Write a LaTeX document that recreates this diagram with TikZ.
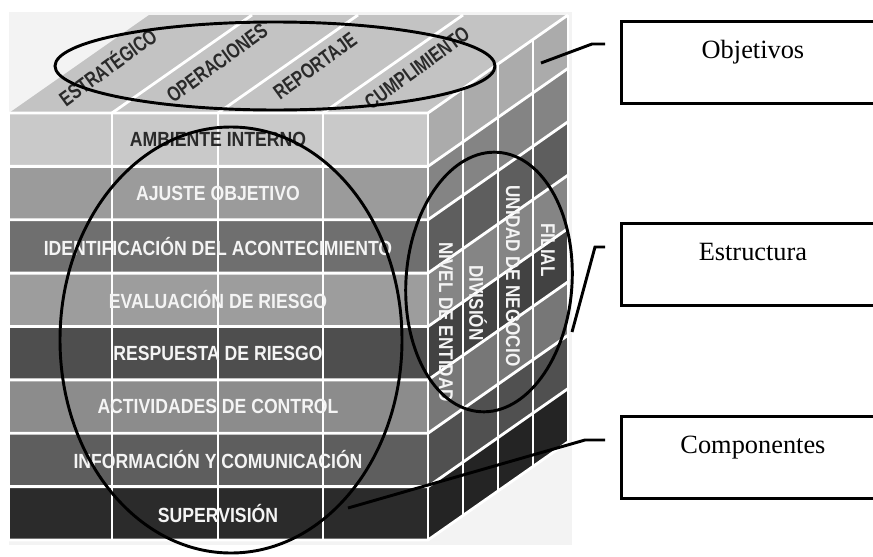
\documentclass[tikz,border=0pt]{standalone}
\usepackage{fontspec}
\setmainfont{Liberation Serif}
\setsansfont{Liberation Sans}
\usepackage{graphicx}
\usetikzlibrary{calc,positioning}

\definecolor{paper}{HTML}{F3F3F3}
\definecolor{lid}{HTML}{C3C3C3}
\definecolor{band1}{HTML}{C9C9C9}
\definecolor{band2}{HTML}{9B9B9B}
\definecolor{band3}{HTML}{6F6F6F}
\definecolor{band4}{HTML}{9D9D9D}
\definecolor{band5}{HTML}{4E4E4E}
\definecolor{band6}{HTML}{8C8C8C}
\definecolor{band7}{HTML}{5E5E5E}
\definecolor{band8}{HTML}{2B2B2B}
\definecolor{ink}{HTML}{2A2A2A}
\definecolor{chalk}{HTML}{F4F4F4}

\newcommand{\narrow}[1]{\scalebox{0.86}[1]{#1}}
\newcommand{\slim}[1]{\scalebox{0.76}[1]{#1}}

\tikzset{
	seam/.style={white, line width=2.4pt},
	ring/.style={black, line width=2.5pt},
	callout/.style={black, line width=2.5pt, shorten >=0.45cm},
	tag/.style={draw, line width=2.2pt, anchor=north west, inner xsep=0pt, inner ysep=0pt, minimum width=7.9cm, text height=1.12cm, text depth=1.34cm, font=\fontsize{22.5}{26}\selectfont},
	rowlabel/.style={text=chalk, font=\fontsize{17.5}{18}\selectfont\sffamily\bfseries},
	toplabel/.style={text=ink, rotate=36, font=\fontsize{18}{19}\selectfont\sffamily\bfseries},
	sidelabel/.style={text=chalk, rotate=-90, font=\fontsize{17}{18}\selectfont\sffamily\bfseries}
}

\begin{document}
\begin{tikzpicture}[x=0.03cm,y=-0.03cm]
	\useasboundingbox (0,0) rectangle (873,556);
	
	%%%cube faces
	\fill[paper] (9,12) rectangle (572,545);
	\fill[lid] (9,113) -- (428,113) -- ++(140,-98) -- (149,15) -- cycle;
	\foreach \i in {1,...,8}
		\fill[band\i] (9,{113+53.375*(\i-1)}) rectangle (428,{113+53.375*\i});
	\foreach \i in {1,...,8}
		\foreach \j in {0,...,3}
			\fill[band\i!85!black] ({428+35*\j},{113-24.5*\j+53.375*(\i-1)}) -- ++(35,-24.5) -- ++(0,53.375) -- ++(-35,24.5) -- cycle;
	
	%%%white seams
	\foreach \i in {0,...,8}
		\draw[seam] (9,{113+53.375*\i}) -- (428,{113+53.375*\i}) -- ++(140,-98);
	\foreach \x in {9,112,218,323,428}
		\draw[seam] (\x,113) -- (\x,540);
	\foreach \x in {112,218,323}
		\draw[seam] (\x,113) -- ++(140,-98);
	\foreach \j in {1,...,4}
		\draw[seam] ({428+35*\j},{113-24.5*\j}) -- ++(0,427);
	
	%%%objetivos (top)
	\node[toplabel] (estr) at (107,66) {\slim{ESTRATÉGICO}};
	\node[toplabel] (oper) at (217,63) {\slim{OPERACIONES}};
	\node[toplabel] (repo) at (315,66) {\slim{REPORTAJE}};
	\node[toplabel] (cump) at (417,68) {\slim{CUMPLIMIENTO}};
	
	%%%componentes (front)
	\node[rowlabel,text=ink] (amb) at (218,139.7) {\narrow{AMBIENTE INTERNO}};
	\node[rowlabel] (aju) at (218,193) {\narrow{AJUSTE OBJETIVO}};
	\node[rowlabel] (ide) at (218,246.4) {\narrow{IDENTIFICACIÓN DEL ACONTECIMIENTO}};
	\node[rowlabel] (eva) at (218,299.8) {\narrow{EVALUACIÓN DE RIESGO}};
	\node[rowlabel] (res) at (218,353.2) {\narrow{RESPUESTA DE RIESGO}};
	\node[rowlabel] (act) at (218,406.6) {\narrow{ACTIVIDADES DE CONTROL}};
	\node[rowlabel] (inf) at (218,459.9) {\narrow{INFORMACIÓN Y COMUNICACIÓN}};
	\node[rowlabel] (sup) at (218,513.3) {\narrow{SUPERVISIÓN}};
	
	%%%estructura (side)
	\node[sidelabel] (niv) at (446,322) {\narrow{NIVEL DE ENTIDAD}};
	\node[sidelabel] (div) at (478,303) {\narrow{DIVISIÓN}};
	\node[sidelabel] (uni) at (513,276) {\narrow{UNIDAD DE NEGOCIO}};
	\node[sidelabel] (fil) at (548,250) {\narrow{FILIAL}};
	
	%%%rings
	\draw[ring] (275,66) ellipse [x radius=220, y radius=44];
	\draw[ring] (231,340) ellipse [x radius=171, y radius=213];
	\draw[ring, rotate around={-4:(489,282)}] (489,282) ellipse [x radius=83, y radius=130];
	
	%%%boxes
	\node[tag] (obj) at (620,20) {Objetivos};
	\node[tag] (est) at (620,222) {Estructura};
	\node[tag] (com) at (620,415) {Componentes};
	
	\coordinate (objtip) at (541,63);
	\coordinate (objbend) at (592,44);
	\coordinate (esttip) at (572,332);
	\coordinate (estbend) at (595,247);
	\coordinate (comtip) at (348,508);
	\coordinate (combend) at (585,440);
	
	\draw[callout] (objtip) -- (objbend) -- (obj.west |- objbend);
	\draw[callout] (esttip) -- (estbend) -- (est.west |- estbend);
	\draw[callout] (comtip) -- (combend) -- (com.west |- combend);
\end{tikzpicture}
\end{document}
